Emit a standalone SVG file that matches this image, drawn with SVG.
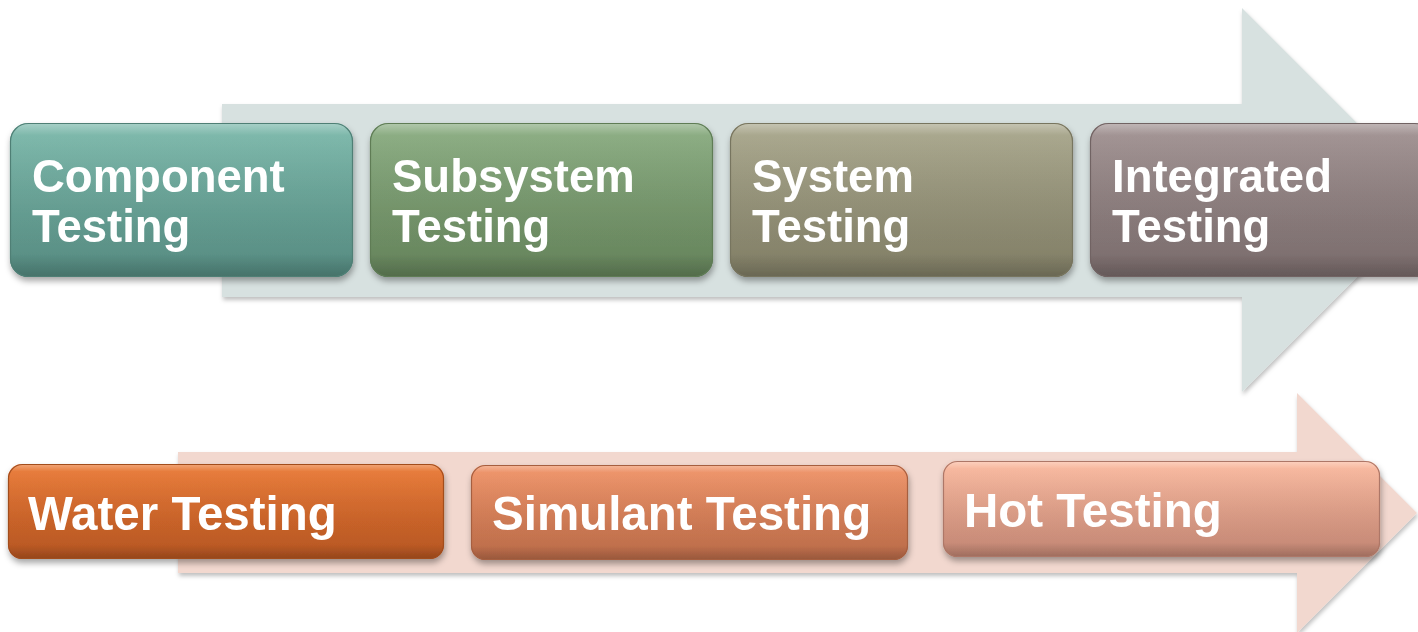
<svg xmlns="http://www.w3.org/2000/svg" width="1418" height="632" viewBox="0 0 1418 632">
  <defs>
    <style>
      .lbl { font-family: "Liberation Sans", Arial, sans-serif; font-weight: bold; fill: #ffffff; }
      .top { font-size: 45.5px; }
      .bot { font-size: 47.5px; }
      .box { filter: url(#boxShadow); }
      .gloss { fill: url(#gloss); }
      .edge { fill: none; stroke-width: 1.2; }
    </style>
    <filter id="arrowShadow" x="-5%" y="-5%" width="110%" height="115%">
      <feDropShadow dx="1" dy="3" stdDeviation="2" flood-color="#000" flood-opacity="0.25"/>
    </filter>
    <filter id="boxShadow" x="-5%" y="-10%" width="110%" height="130%">
      <feDropShadow dx="1" dy="4" stdDeviation="3" flood-color="#000" flood-opacity="0.35"/>
    </filter>
    <linearGradient id="gloss" x1="0" y1="0" x2="0" y2="1">
      <stop offset="0" stop-color="#fff" stop-opacity="0.35"/>
      <stop offset="0.08" stop-color="#fff" stop-opacity="0.05"/>
      <stop offset="0.85" stop-color="#000" stop-opacity="0"/>
      <stop offset="1" stop-color="#000" stop-opacity="0.18"/>
    </linearGradient>
    <linearGradient id="gTeal" x1="0" y1="0" x2="0" y2="1">
      <stop offset="0" stop-color="#7ab8aa"/>
      <stop offset="1" stop-color="#558a80"/>
    </linearGradient>
    <linearGradient id="gGreen" x1="0" y1="0" x2="0" y2="1">
      <stop offset="0" stop-color="#89ac80"/>
      <stop offset="1" stop-color="#64825a"/>
    </linearGradient>
    <linearGradient id="gOlive" x1="0" y1="0" x2="0" y2="1">
      <stop offset="0" stop-color="#a8a68b"/>
      <stop offset="1" stop-color="#807d65"/>
    </linearGradient>
    <linearGradient id="gMauve" x1="0" y1="0" x2="0" y2="1">
      <stop offset="0" stop-color="#a09191"/>
      <stop offset="1" stop-color="#796b6b"/>
    </linearGradient>
    <linearGradient id="gOrange" x1="0" y1="0" x2="0" y2="1">
      <stop offset="0" stop-color="#ea7833"/>
      <stop offset="1" stop-color="#b45522"/>
    </linearGradient>
    <linearGradient id="gCoral" x1="0" y1="0" x2="0" y2="1">
      <stop offset="0" stop-color="#f09266"/>
      <stop offset="1" stop-color="#b86a48"/>
    </linearGradient>
    <linearGradient id="gPeach" x1="0" y1="0" x2="0" y2="1">
      <stop offset="0" stop-color="#fbb99e"/>
      <stop offset="1" stop-color="#c08472"/>
    </linearGradient>
  </defs>

  <rect width="1418" height="632" fill="#ffffff"/>

  <!-- background block arrows -->
  <g id="connectors">
    <path id="arrow-top" d="M222,104 H1242 V8 L1434,200 L1242,392 V297 H222 Z" fill="#d7e1e0" filter="url(#arrowShadow)"/>
    <path id="arrow-bottom" d="M178,452 H1297 V393 L1417,513 L1297,633 V573 H178 Z" fill="#f2d8cf" filter="url(#arrowShadow)"/>
  </g>

  <!-- top row -->
  <g id="component-testing" class="box">
    <rect x="10" y="123" width="343" height="154" rx="18" fill="url(#gTeal)"/>
    <rect x="10" y="123" width="343" height="154" rx="18" class="gloss"/>
    <rect x="10.5" y="123.5" width="342" height="153" rx="18" class="edge" stroke="#4f7f75"/>
    <text class="lbl top" x="32" y="192">Component</text>
    <text class="lbl top" x="32" y="242">Testing</text>
  </g>
  <g id="subsystem-testing" class="box">
    <rect x="370" y="123" width="343" height="154" rx="18" fill="url(#gGreen)"/>
    <rect x="370" y="123" width="343" height="154" rx="18" class="gloss"/>
    <rect x="370.5" y="123.5" width="342" height="153" rx="18" class="edge" stroke="#5e7b55"/>
    <text class="lbl top" x="392" y="192">Subsystem</text>
    <text class="lbl top" x="392" y="242">Testing</text>
  </g>
  <g id="system-testing" class="box">
    <rect x="730" y="123" width="343" height="154" rx="18" fill="url(#gOlive)"/>
    <rect x="730" y="123" width="343" height="154" rx="18" class="gloss"/>
    <rect x="730.5" y="123.5" width="342" height="153" rx="18" class="edge" stroke="#77745e"/>
    <text class="lbl top" x="752" y="192">System</text>
    <text class="lbl top" x="752" y="242">Testing</text>
  </g>
  <g id="integrated-testing" class="box">
    <rect x="1090" y="123" width="343" height="154" rx="18" fill="url(#gMauve)"/>
    <rect x="1090" y="123" width="343" height="154" rx="18" class="gloss"/>
    <rect x="1090.5" y="123.5" width="342" height="153" rx="18" class="edge" stroke="#716363"/>
    <text class="lbl top" x="1112" y="192">Integrated</text>
    <text class="lbl top" x="1112" y="242">Testing</text>
  </g>

  <!-- bottom row -->
  <g id="water-testing" class="box">
    <rect x="8" y="464" width="436" height="95" rx="14" fill="url(#gOrange)"/>
    <rect x="8" y="464" width="436" height="95" rx="14" class="gloss"/>
    <rect x="8.5" y="464.5" width="435" height="94" rx="14" class="edge" stroke="#a24d1f"/>
    <text class="lbl bot" x="28" y="530">Water Testing</text>
  </g>
  <g id="simulant-testing" class="box">
    <rect x="471" y="465" width="437" height="95" rx="14" fill="url(#gCoral)"/>
    <rect x="471" y="465" width="437" height="95" rx="14" class="gloss"/>
    <rect x="471.5" y="465.5" width="436" height="94" rx="14" class="edge" stroke="#a65f40"/>
    <text class="lbl bot" x="492" y="530">Simulant Testing</text>
  </g>
  <g id="hot-testing" class="box">
    <rect x="943" y="461" width="437" height="96" rx="14" fill="url(#gPeach)"/>
    <rect x="943" y="461" width="437" height="96" rx="14" class="gloss"/>
    <rect x="943.5" y="461.5" width="436" height="95" rx="14" class="edge" stroke="#ad7767"/>
    <text class="lbl bot" x="964" y="527">Hot Testing</text>
  </g>
</svg>
